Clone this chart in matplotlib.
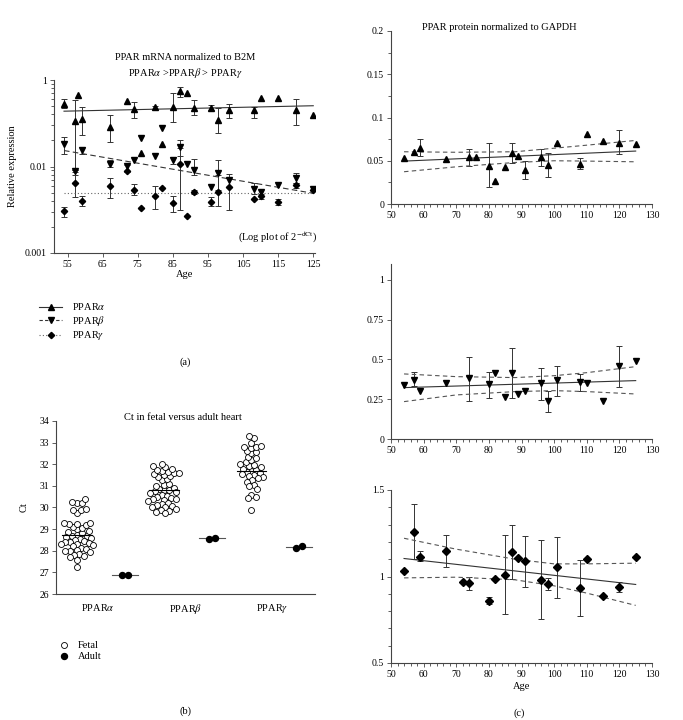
import numpy as np
import matplotlib
matplotlib.use('Agg')
import matplotlib.pyplot as plt
from matplotlib.lines import Line2D
from matplotlib.ticker import MultipleLocator, NullFormatter

plt.rcParams['font.family'] = ['Liberation Serif', 'DejaVu Serif']
plt.rcParams['mathtext.fontset'] = 'stix'
plt.rcParams['font.size'] = 7

nan = np.nan

# ---- (a) mRNA, log scale ----
age_a = [54, 57, 58, 59, 67, 72, 74, 76, 80, 82, 85, 87, 89, 91, 96, 98, 101, 108, 110, 115, 120, 125]
mrna_alpha = [0.0526, 0.0336, 0.067, 0.0358, 0.0287, 0.057, 0.0456, 0.0143, 0.0481, 0.0180, 0.049,
              0.0745, 0.070, 0.048, 0.048, 0.0343, 0.0448, 0.0448, 0.0623, 0.0623, 0.0448, 0.0392]
mrna_alpha_lo = [0.0469, 0.0090, nan, 0.0234, 0.0192, nan, 0.0368, nan, 0.0455, nan, 0.0328,
                 0.064, nan, 0.0393, 0.0448, 0.0247, 0.0368, 0.0368, nan, nan, 0.0305, nan]
mrna_alpha_hi = [0.0600, 0.0585, nan, 0.049, 0.0393, nan, 0.056, nan, 0.0505, nan, 0.070,
                 0.0837, nan, 0.0585, 0.051, 0.0469, 0.0521, 0.049, nan, nan, 0.0596, nan]

age_bg = [54, 57, 59, 67, 72, 74, 76, 80, 82, 85, 87, 89, 91, 96, 98, 101, 108, 110, 115, 120, 125]
mrna_beta = [0.0184, 0.0088, 0.0154, 0.0108, 0.0101, 0.0118, 0.0213, 0.0132, 0.0275, 0.0118, 0.0166,
             0.0107, 0.0092, 0.0058, 0.0084, 0.0069, 0.0055, 0.0051, 0.0061, 0.0073, 0.0055]
mrna_beta_lo = [0.0138, 0.0079, 0.0141, 0.0098, 0.0086, nan, nan, nan, nan, 0.0108, 0.0134,
                nan, 0.0079, nan, 0.0053, nan, 0.0048, nan, nan, 0.0065, nan]
mrna_beta_hi = [0.0219, 0.0092, 0.0168, 0.0118, 0.0105, nan, nan, nan, nan, 0.0128, 0.0200,
                nan, 0.0123, nan, 0.0118, nan, 0.0065, nan, nan, 0.0085, nan]
mrna_gamma = [0.00303, 0.0065, 0.0040, 0.0059, 0.0088, 0.0054, 0.0033, 0.0046, 0.0056, 0.0038, 0.0107,
              0.0027, 0.0051, 0.0039, 0.0051, 0.0058, 0.0042, 0.0045, 0.0039, 0.0061, 0.0054]
mrna_gamma_lo = [0.0026, 0.0044, 0.0035, 0.0043, nan, 0.0047, nan, 0.0032, nan, 0.0030, 0.0031,
                 nan, 0.0048, 0.0035, 0.0035, 0.0031, nan, 0.0042, 0.0036, 0.0057, nan]
mrna_gamma_hi = [0.0034, 0.0086, 0.0046, 0.0074, nan, 0.0063, nan, 0.0060, nan, 0.0045, 0.0165,
                 nan, 0.0054, 0.0044, 0.0079, 0.0082, nan, 0.0048, 0.0042, 0.0065, nan]

fit_age = [54, 125]
mrna_fit_alpha = [0.0436, 0.0504]
mrna_fit_beta = [0.0153, 0.0049]
mrna_fit_gamma = [0.0050, 0.0050]

# ---- (b) Ct fetal vs adult ----
genes = ['PPAR$\\alpha$', 'PPAR$\\beta$', 'PPAR$\\gamma$']
fetal_alpha = [30.4, 30.25, 30.2, 30.2, 29.95, 29.9, 29.9, 29.75, 29.3, 29.3, 29.25, 29.25, 29.2, 29.1,
               29.05, 29.0, 28.9, 28.85, 28.8, 28.75, 28.7, 28.7, 28.65, 28.6, 28.55, 28.5, 28.45, 28.4,
               28.4, 28.35, 28.3, 28.3, 28.25, 28.2, 28.15, 28.1, 28.05, 28.0, 28.0, 27.95, 27.85, 27.8,
               27.75, 27.7, 27.55, 27.25]
fetal_beta = [32.0, 31.9, 31.85, 31.8, 31.75, 31.7, 31.65, 31.6, 31.6, 31.55, 31.5, 31.45, 31.4, 31.3,
              31.25, 31.1, 31.05, 31.0, 30.9, 30.85, 30.8, 30.8, 30.75, 30.7, 30.65, 30.6, 30.55, 30.5,
              30.45, 30.4, 30.4, 30.35, 30.3, 30.2, 30.15, 30.1, 30.05, 30.0, 30.0, 29.95, 29.9, 29.85,
              29.8, 29.75]
fetal_gamma = [33.3, 33.2, 33.0, 32.85, 32.8, 32.8, 32.75, 32.6, 32.55, 32.5, 32.35, 32.3, 32.2, 32.1,
               32.0, 31.95, 31.9, 31.85, 31.8, 31.75, 31.7, 31.65, 31.6, 31.55, 31.5, 31.45,
               31.4, 31.35, 31.25, 31.2, 31.05, 31.0, 30.85, 30.6, 30.5, 30.45, 29.9]
fetal_mean = [28.75, 30.8, 31.7]
adult_ct = [[26.9, 26.9], [28.55, 28.6], [28.15, 28.2]]

# ---- (c) protein ----
age_c_alpha = [54, 57, 59, 67, 74, 76, 80, 82, 85, 87, 89, 91, 96, 98, 101, 108, 110, 115, 120, 125]
prot_alpha = [0.0535, 0.0604, 0.065, 0.0515, 0.0538, 0.0546, 0.0442, 0.027, 0.0423, 0.0592, 0.0558,
              0.0392, 0.0538, 0.0454, 0.070, 0.0462, 0.0808, 0.073, 0.070, 0.0692]
prot_alpha_lo = [nan, nan, 0.0558, nan, 0.0438, nan, 0.0192, nan, nan, 0.0477, nan, 0.0288, 0.0438,
                 0.0315, nan, 0.0404, nan, nan, 0.0573, nan]
prot_alpha_hi = [nan, nan, 0.0746, nan, 0.0635, nan, 0.070, nan, nan, 0.0708, nan, 0.050, 0.0635,
                 0.0592, nan, 0.0527, nan, nan, 0.0854, nan]

age_c_beta = [54, 57, 59, 67, 74, 80, 82, 85, 87, 89, 91, 96, 98, 101, 108, 110, 115, 120, 125]
prot_beta = [0.3375, 0.371, 0.304, 0.354, 0.381, 0.344, 0.413, 0.266, 0.417, 0.281, 0.302, 0.350,
             0.241, 0.371, 0.361, 0.350, 0.239, 0.459, 0.493]
prot_beta_lo = [nan, 0.333, nan, nan, 0.241, 0.256, nan, nan, 0.256, nan, nan, 0.245, 0.172, 0.270,
                0.300, nan, nan, 0.325, nan]
prot_beta_hi = [nan, 0.423, nan, nan, 0.518, 0.423, nan, nan, 0.570, nan, nan, 0.449, 0.300, 0.461,
                0.409, nan, nan, 0.587, nan]

age_c_gamma = [54, 57, 59, 67, 72, 74, 80, 82, 85, 87, 89, 91, 96, 98, 101, 108, 110, 115, 120, 125]
prot_gamma = [1.031, 1.260, 1.115, 1.150, 0.969, 0.962, 0.860, 0.987, 1.010, 1.140, 1.106, 1.087,
              0.981, 0.956, 1.054, 0.933, 1.104, 0.890, 0.938, 1.110]
prot_gamma_lo = [nan, 1.102, 1.087, 1.056, nan, 0.923, 0.842, nan, 0.783, 0.985, nan, 0.938, 0.754,
                 0.923, 0.875, 0.773, nan, nan, 0.908, nan]
prot_gamma_hi = [nan, 1.417, 1.150, 1.240, nan, 0.996, 0.879, nan, 1.240, 1.296, nan, 1.233, 1.210,
                 0.990, 1.231, 1.098, nan, nan, 0.971, nan]

prot_fit_alpha = [0.0496, 0.0612]
prot_fit_beta = [0.323, 0.367]
prot_fit_gamma = [1.104, 0.954]
ci_age = [54, 70, 88, 100, 110, 125]
alpha_ci_hi = [0.0604, 0.0598, 0.0604, 0.0645, 0.068, 0.0735]
alpha_ci_lo = [0.0373, 0.043, 0.048, 0.050, 0.0496, 0.0488]
beta_ci_hi = [0.409, 0.392, 0.386, 0.398, 0.417, 0.455]
beta_ci_lo = [0.235, 0.277, 0.298, 0.304, 0.298, 0.283]
gamma_ci_hi = [1.221, 1.158, 1.100, 1.073, 1.073, 1.077]
gamma_ci_lo = [0.992, 0.996, 0.981, 0.946, 0.904, 0.833]

W, H = 683, 720
AX = '#444444'
LN = '#333333'


def box(l, t, r, b):
    return [l / W, 1 - b / H, (r - l) / W, (b - t) / H]


def style(ax):
    for s in ['top', 'right']:
        ax.spines[s].set_visible(False)
    for s in ['left', 'bottom']:
        ax.spines[s].set_color(AX)
        ax.spines[s].set_linewidth(0.8)
    ax.tick_params(which='both', direction='out', color=AX, width=0.6, labelsize=7, pad=2)
    ax.tick_params(which='major', length=3)
    ax.tick_params(which='minor', length=2)


def errs(ax, x, v, lo, hi):
    x = np.array(x, float); v = np.array(v); lo = np.array(lo); hi = np.array(hi)
    m = ~np.isnan(lo)
    ax.errorbar(x[m], v[m], yerr=[v[m] - lo[m], hi[m] - v[m]], fmt='none', ecolor=LN,
                elinewidth=0.7, capsize=2.5, capthick=0.7, zorder=2)


def swarm(vals, d, ypx, xpx):
    placed = []
    out = []
    for v in vals:
        y = v * ypx
        cands = [0.0]
        for px, py in placed:
            dy = abs(y - py)
            if dy < d:
                dx = np.sqrt(d * d - dy * dy)
                cands += [px + dx, px - dx]
        cands.sort(key=abs)
        pick = cands[-1]
        for c in cands:
            if all((c - px) ** 2 + (y - py) ** 2 >= d * d - 1e-6 for px, py in placed):
                pick = c
                break
        placed.append((pick, y))
        out.append(pick / xpx)
    return np.array(out)


fig = plt.figure(figsize=(W / 100, H / 100), dpi=100)

# ---------- (a) ----------
ax = fig.add_axes(box(54, 80, 315, 253))
style(ax)
ax.set_yscale('log')
ax.set_ylim(0.001, 0.1)
ax.set_xlim(51.15, 125.5)
errs(ax, age_a, mrna_alpha, mrna_alpha_lo, mrna_alpha_hi)
errs(ax, age_bg, mrna_beta, mrna_beta_lo, mrna_beta_hi)
errs(ax, age_bg, mrna_gamma, mrna_gamma_lo, mrna_gamma_hi)
ax.plot(fit_age, mrna_fit_alpha, color=LN, lw=0.8, ls='-')
ax.plot(fit_age, mrna_fit_beta, color=LN, lw=0.8, ls=(0, (5, 3)))
ax.plot(fit_age, mrna_fit_gamma, color='#666666', lw=0.8, ls=(0, (1, 2)))
ax.plot(age_a, mrna_alpha, '^', color='k', ms=4.5, ls='none', zorder=3)
ax.plot(age_bg, mrna_beta, 'v', color='k', ms=4.5, ls='none', zorder=3)
ax.plot(age_bg, mrna_gamma, 'D', color='k', ms=3.2, ls='none', zorder=3)
ax.set_yticks([0.001, 0.01, 0.1])
ax.set_yticklabels(['0.001', '0.01', '1'])
ax.yaxis.set_minor_formatter(NullFormatter())
ax.set_xticks(range(55, 126, 10))
ax.set_xlabel('Age', fontsize=7.5, labelpad=1)
ax.set_ylabel('Relative expression', fontsize=7.5, labelpad=6)
ax.text(1.008, 0.092, '(Log plot of 2$^{-\\mathrm{dCt}}$)', transform=ax.transAxes,
        ha='right', va='center', fontsize=7.5)
fig.text(185 / W, 1 - 57 / H, 'PPAR mRNA normalized to B2M', ha='center', va='center', fontsize=7.5)
fig.text(185 / W, 1 - 73 / H, 'PPAR$\\alpha$ >PPAR$\\beta$ > PPAR$\\gamma$', ha='center', va='center',
         fontsize=7.5)
hand_a = [Line2D([], [], color=LN, lw=0.8, ls='-', marker='^', mfc='k', mec='k', ms=4.5),
          Line2D([], [], color=LN, lw=0.8, ls=(0, (3, 2)), marker='v', mfc='k', mec='k', ms=4.5),
          Line2D([], [], color='#666666', lw=0.8, ls=(0, (1, 2)), marker='D', mfc='k', mec='k', ms=3.2)]
fig.legend(hand_a, genes, loc='upper left', bbox_to_anchor=(34 / W, 1 - 296 / H), frameon=False,
           fontsize=7.5, handlelength=2.2, handletextpad=0.9, labelspacing=0.15, borderpad=0)
fig.text(185 / W, 1 - 362 / H, '(a)', ha='center', va='center', fontsize=7.5)

# ---------- (b) ----------
ax = fig.add_axes(box(56, 421, 315, 594))
style(ax)
ax.set_ylim(26, 34)
ax.set_xlim(0.517, 3.49)
ypx, xpx, dd = 21.6, 87.0, 5.0
fetal = [fetal_alpha, fetal_beta, fetal_gamma]
for i in range(3):
    cx = i + 1 - 0.24
    vals = sorted(fetal[i], key=lambda v: abs(v - fetal_mean[i]))
    xs = swarm(vals, dd, ypx, xpx)
    ax.plot(cx + xs, vals, 'o', mfc='white', mec='k', mew=0.6, ms=4.3, ls='none', zorder=3)
    ax.plot([cx - 0.17, cx + 0.17], [fetal_mean[i]] * 2, color='k', lw=0.8, zorder=4)
    ax_x = i + 1 + 0.31
    xa = swarm(adult_ct[i], dd + 1, ypx, xpx)
    xa = xa - xa.mean()
    ax.plot([ax_x - 0.15, ax_x + 0.15], [np.mean(adult_ct[i])] * 2, color='#555555', lw=0.8, zorder=2)
    ax.plot(ax_x + xa, adult_ct[i], 'o', color='k', ms=4.3, ls='none', zorder=3)
ax.set_xticks([1, 2, 3])
ax.set_xticklabels(genes, fontsize=7.5)
ax.tick_params(axis='x', length=0, pad=6)
ax.set_yticks(range(26, 35))
ax.set_ylabel('Ct', fontsize=7.5, labelpad=8)
fig.text(183 / W, 1 - 417 / H, 'Ct in fetal versus adult heart', ha='center', va='center', fontsize=7.5)
hand_b = [Line2D([], [], ls='none', marker='o', mfc='white', mec='k', mew=0.6, ms=4.3),
          Line2D([], [], ls='none', marker='o', color='k', ms=4.3)]
fig.legend(hand_b, ['Fetal', 'Adult'], loc='upper left', bbox_to_anchor=(54 / W, 1 - 636 / H),
           frameon=False, fontsize=7.5, handlelength=1.0, handletextpad=0.8, labelspacing=0.15,
           borderpad=0)
fig.text(185 / W, 1 - 711 / H, '(b)', ha='center', va='center', fontsize=7.5)

# ---------- (c) ----------
panels = [
    (box(391, 31, 652, 204), age_c_alpha, prot_alpha, prot_alpha_lo, prot_alpha_hi, prot_fit_alpha,
     alpha_ci_hi, alpha_ci_lo, '^', 5, (0, 0.2), [0, 0.05, 0.1, 0.15, 0.2], ['0', '0.05', '0.1', '0.15', '0.2'], 0.025),
    (box(391, 264, 652, 439), age_c_beta, prot_beta, prot_beta_lo, prot_beta_hi, prot_fit_beta,
     beta_ci_hi, beta_ci_lo, 'v', 5, (0, 1.1), [0, 0.25, 0.5, 0.75, 1], ['0', '0.25', '0.5', '0.75', '1'], None),
    (box(391, 490, 652, 663), age_c_gamma, prot_gamma, prot_gamma_lo, prot_gamma_hi, prot_fit_gamma,
     gamma_ci_hi, gamma_ci_lo, 'D', 4, (0.5, 1.5), [0.5, 1, 1.5], ['0.5', '1', '1.5'], 0.1),
]
for rect, ages, v, lo, hi, fit, cih, cil, mk, ms, yl, yt, ytl, ymin in panels:
    ax = fig.add_axes(rect)
    style(ax)
    ax.set_xlim(50, 130)
    ax.set_ylim(*yl)
    errs(ax, ages, v, lo, hi)
    ax.plot(fit_age, fit, color=LN, lw=0.8)
    ax.plot(ci_age, cih, color='#555555', lw=0.8, ls=(0, (4, 3)))
    ax.plot(ci_age, cil, color='#555555', lw=0.8, ls=(0, (4, 3)))
    ax.plot(ages, v, mk, color='k', ms=ms, ls='none', zorder=3)
    ax.set_xticks(range(50, 131, 10))
    ax.xaxis.set_minor_locator(MultipleLocator(2))
    ax.set_yticks(yt)
    ax.set_yticklabels(ytl)
    if ymin:
        ax.yaxis.set_minor_locator(MultipleLocator(ymin))
ax.set_xlabel('Age', fontsize=7.5, labelpad=2)
fig.text(499 / W, 1 - 27 / H, 'PPAR protein normalized to GAPDH', ha='center', va='center', fontsize=7.5)
fig.text(519 / W, 1 - 713 / H, '(c)', ha='center', va='center', fontsize=7.5)

fig.savefig('out.png', dpi=100)
